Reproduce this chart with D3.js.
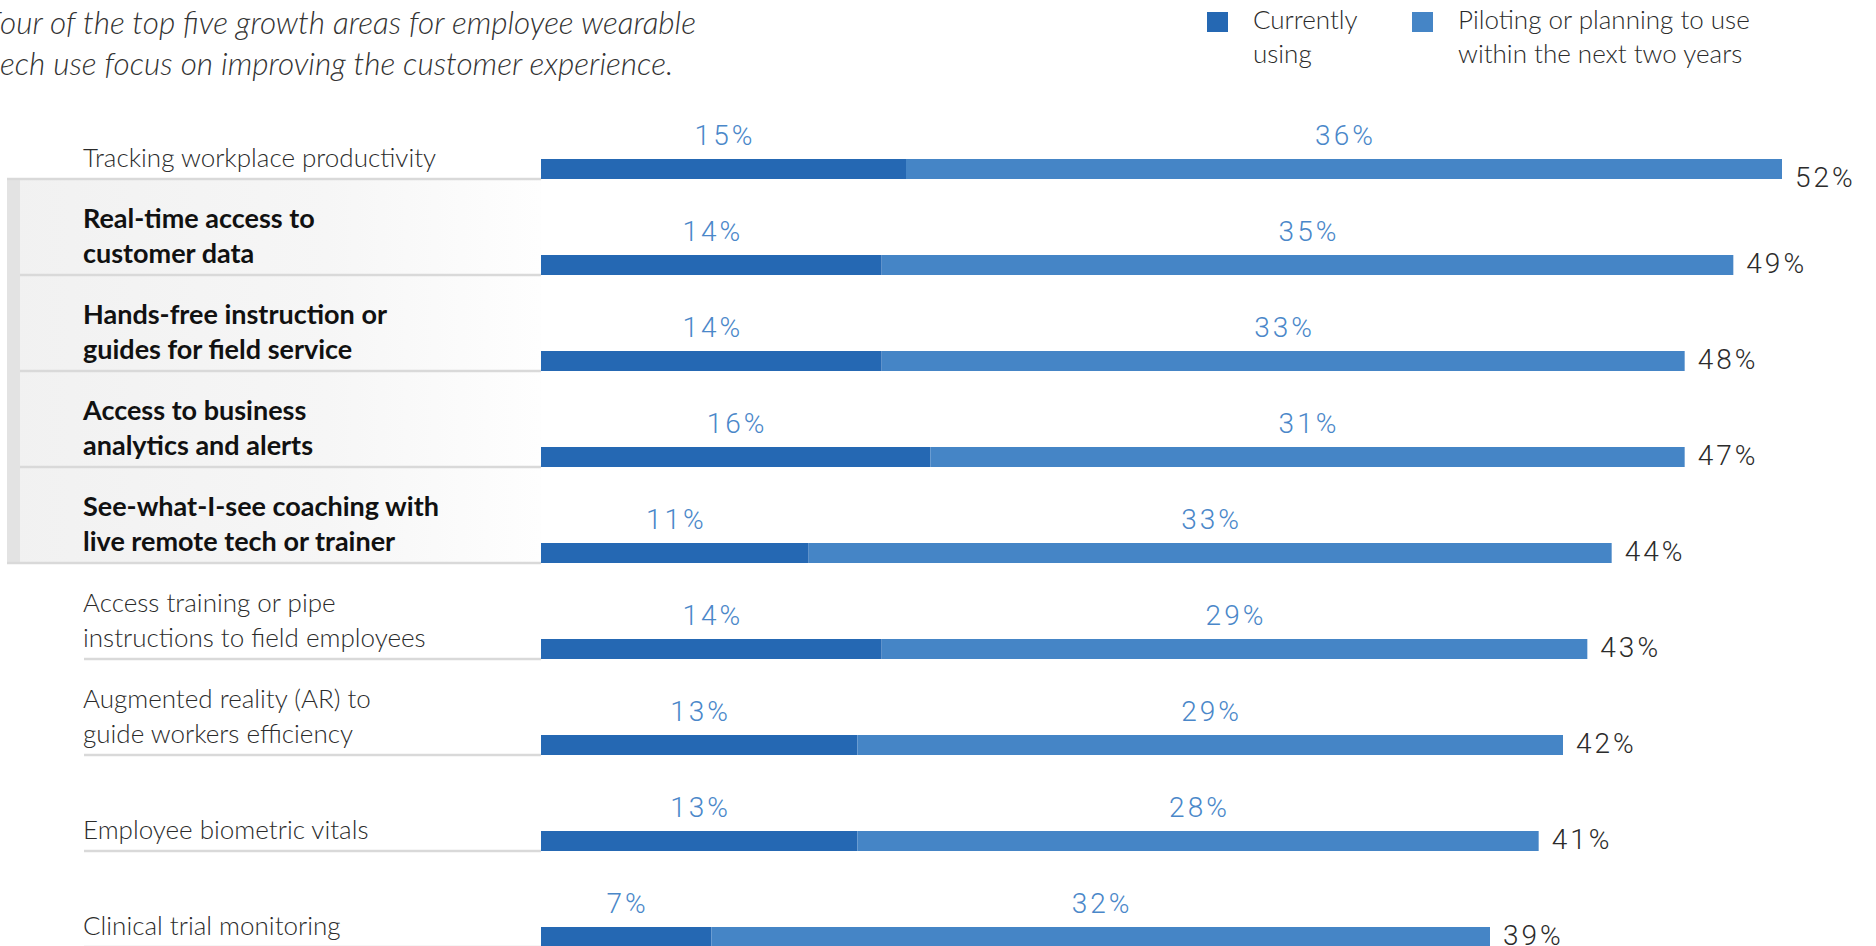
<!DOCTYPE html>
<html lang="en">
<head>
<meta charset="utf-8">
<title>Employee wearable tech use</title>
<script src="https://cdn.jsdelivr.net/npm/d3@7/dist/d3.min.js"></script>
<style>
  html, body { margin: 0; padding: 0; background: #fff; overflow: hidden; }
  svg { display: block; }
  .num { font-family: Roboto, sans-serif; font-weight: 300; font-size: 28px; letter-spacing: 3px; }
  .txt { font-family: Lato, sans-serif; }
</style>
</head>
<body>
<div id="chart"></div>
<script>
(function(d3) {
  'use strict';

  var titleLines = [
    'Four of the top five growth areas for employee wearable',
    'tech use focus on improving the customer experience.'
  ];

  var legendLabels = [
    ['Currently', 'using'],
    ['Piloting or planning to use', 'within the next two years']
  ];

  var categories = [
    'Tracking workplace productivity',
    'Real-time access to\ncustomer data',
    'Hands-free instruction or\nguides for field service',
    'Access to business\nanalytics and alerts',
    'See-what-I-see coaching with\nlive remote tech or trainer',
    'Access training or pipe\ninstructions to field employees',
    'Augmented reality (AR) to\nguide workers efficiency',
    'Employee biometric vitals',
    'Clinical trial monitoring'
  ];

  var currentlyUsing = [15, 14, 14, 16, 11, 14, 13, 13, 7];
  var planning = [36, 35, 33, 31, 33, 29, 29, 28, 32];
  var totals = [52, 49, 48, 47, 44, 43, 42, 41, 39];

  // rows about the customer experience get the grey panel
  var customerFocus = [false, true, true, true, true, false, false, false, false];

  var width = 1876;
  var height = 946;
  var darkBlue = '#2568b3';
  var lightBlue = '#4585c6';

  var rows = categories.map(function(c, i) {
    return { name: c, current: currentlyUsing[i], planned: planning[i], total: totals[i], focus: customerFocus[i] };
  });

  var svg = d3.select('#chart')
    .append('svg')
    .attr('width', width)
    .attr('height', height);

  var x = d3.scaleLinear()
    .domain([0, 51])
    .range([541, 1782]);

  var y = d3.scaleBand()
    .domain(d3.range(rows.length))
    .range([83, 83 + 96 * rows.length]);

  var band = y.bandwidth();
  var barH = 20;

  // grey panel behind the highlighted rows
  var grad = svg.append('defs').append('linearGradient')
    .attr('id', 'panel')
    .attr('x1', '0%').attr('x2', '100%');
  grad.append('stop').attr('offset', '0%').attr('stop-color', '#f1f1f1');
  grad.append('stop').attr('offset', '60%').attr('stop-color', '#f6f6f6');
  grad.append('stop').attr('offset', '100%').attr('stop-color', '#fefefe');

  var focusIdx = rows.map(function(d, i) { return d.focus ? i : -1; }).filter(function(i) { return i >= 0; });
  var panelTop = y(focusIdx[0]);
  var panelBottom = y(focusIdx[focusIdx.length - 1]) + band;

  svg.append('rect')
    .attr('x', 7).attr('y', panelTop)
    .attr('width', x(0) - 7).attr('height', panelBottom - panelTop)
    .attr('fill', 'url(#panel)');
  svg.append('rect')
    .attr('x', 7).attr('y', panelTop)
    .attr('width', 13).attr('height', panelBottom - panelTop)
    .attr('fill', '#e3e3e3');

  // separator lines under each label
  svg.append('g').selectAll('line')
    .data(rows)
    .enter()
    .append('line')
    .attr('x1', function(d, i) {
      var next = rows[i + 1];
      var nextFocus = next ? next.focus : false;
      if (d.focus && nextFocus) return 20;
      if (d.focus !== nextFocus) return 7;
      return 84;
    })
    .attr('x2', x(0))
    .attr('y1', function(d, i) { return y(i) + band; })
    .attr('y2', function(d, i) { return y(i) + band; })
    .attr('stroke', '#d9d9d9')
    .attr('stroke-width', 2.5);

  // category labels
  var labels = svg.append('g').selectAll('text')
    .data(rows)
    .enter()
    .append('text')
    .attr('class', 'txt')
    .attr('font-size', function(d) { return d.focus ? 27 : 26; })
    .attr('font-weight', function(d) { return d.focus ? 700 : 300; })
    .attr('fill', function(d) { return d.focus ? '#111' : '#2b2b2b'; });

  labels.each(function(d, i) {
    var lines = d.name.split('\n');
    var base = y(i) + band - 12;
    d3.select(this).selectAll('tspan')
      .data(lines)
      .enter()
      .append('tspan')
      .attr('x', 83)
      .attr('y', function(l, j) { return base - (lines.length - 1 - j) * 35; })
      .text(function(l) { return l; });
  });

  // stacked bars
  var stack = d3.stack().keys(['current', 'planned']);
  var series = stack(rows);
  var colors = [darkBlue, lightBlue];

  var groups = svg.append('g').selectAll('g')
    .data(series)
    .enter()
    .append('g')
    .attr('fill', function(s, k) { return colors[k]; });

  groups.selectAll('rect')
    .data(function(s) { return s; })
    .enter()
    .append('rect')
    .attr('x', function(d) { return x(d[0]); })
    .attr('y', function(d, i) { return y(i) + band - barH; })
    .attr('width', function(d) { return x(d[1]) - x(d[0]); })
    .attr('height', barH);

  // segment values above each part
  groups.selectAll('text')
    .data(function(s) { return s; })
    .enter()
    .append('text')
    .attr('class', 'num')
    .attr('fill', '#4a87c9')
    .attr('text-anchor', 'middle')
    .attr('x', function(d) { return (x(d[0]) + x(d[1])) / 2 + 1.5; })
    .attr('y', function(d, i) { return y(i) + band - barH - 14; })
    .text(function(d) { return (d[1] - d[0]) + '%'; });

  // totals at the end of each bar
  svg.append('g').selectAll('text')
    .data(rows)
    .enter()
    .append('text')
    .attr('class', 'num')
    .attr('fill', '#2b2b2b')
    .attr('x', function(d) { return x(d.current + d.planned) + 13; })
    .attr('y', function(d, i) { return y(i) + band - (i === 0 ? -8 : 2); })
    .text(function(d) { return d.total + '%'; });

  // title, its left edge runs off the page
  var title = svg.append('text')
    .attr('class', 'txt')
    .attr('font-size', 31.5)
    .attr('font-style', 'italic')
    .attr('font-weight', 300)
    .attr('fill', '#333');
  titleLines.forEach(function(t, i) {
    var ts = title.append('tspan').attr('y', 34 + i * 41).text(t);
    var first = ts.node().getSubStringLength(0, 1);
    ts.attr('x', (i === 0 ? 0 : 0) - first);
  });

  // legend
  var legendX = [1207, 1412];
  var legend = svg.append('g').selectAll('g')
    .data(legendLabels)
    .enter()
    .append('g');
  legend.append('rect')
    .attr('x', function(d, i) { return legendX[i]; })
    .attr('y', 12)
    .attr('width', 21).attr('height', 20)
    .attr('fill', function(d, i) { return colors[i]; });
  legend.append('text')
    .attr('class', 'txt')
    .attr('font-size', 26)
    .attr('font-weight', 300)
    .attr('fill', '#2b2b2b')
    .each(function(d, i) {
      d3.select(this).selectAll('tspan')
        .data(d)
        .enter()
        .append('tspan')
        .attr('x', legendX[i] + 46)
        .attr('y', function(l, j) { return 29 + j * 34; })
        .text(function(l) { return l; });
    });

})(window.d3);
</script>
</body>
</html>
